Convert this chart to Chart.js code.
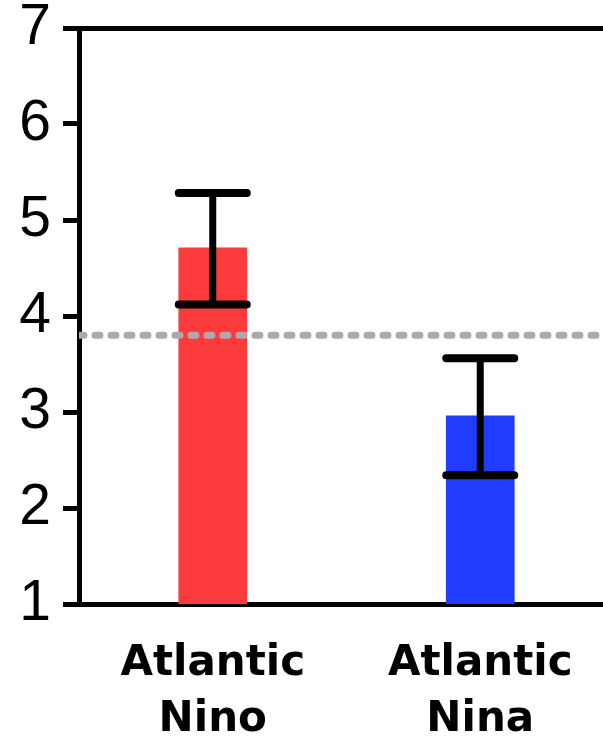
<!DOCTYPE html>
<html>
<head>
  <meta charset="utf-8">
  <title>Atlantic Nino / Nina</title>
  <script src="https://cdn.jsdelivr.net/npm/chart.js@4.4.0/dist/chart.umd.min.js"></script>
  <style>
    html, body { margin: 0; padding: 0; background: #fff; overflow: hidden; }
    #wrap { width: 640px; height: 741px; }
  </style>
</head>
<body>
  <div id="wrap"><canvas id="myChart"></canvas></div>

  <script>
    // categories and values
    const categories = [['Atlantic', 'Nino'], ['Atlantic', 'Nina']];
    const means = [4.71, 2.96];
    const errLow = [4.12, 2.34];
    const errHigh = [5.28, 3.56];
    const barColors = ['#fc3c3c', '#1f3cff'];
    const refLevel = 3.8;   // dashed reference line
    const yTicks = [1, 2, 3, 4, 5, 6, 7];

    // error bars drawn on top of the bars
    const errorBars = {
      id: 'errorBars',
      afterDatasetsDraw(chart) {
        const meta = chart.getDatasetMeta(0);
        const y = chart.scales.y;
        const ctx = chart.ctx;
        ctx.save();
        ctx.strokeStyle = '#000';
        meta.data.forEach((bar, i) => {
          const yl = y.getPixelForValue(errLow[i]);
          const yh = y.getPixelForValue(errHigh[i]);
          const hw = bar.width / 2;
          ctx.lineWidth = 7;
          ctx.lineCap = 'butt';
          ctx.beginPath();
          ctx.moveTo(bar.x, yh);
          ctx.lineTo(bar.x, yl);
          ctx.stroke();
          ctx.lineCap = 'round';
          ctx.lineWidth = 8;
          ctx.beginPath();
          ctx.moveTo(bar.x - hw, yh);
          ctx.lineTo(bar.x + hw, yh);
          ctx.moveTo(bar.x - hw, yl);
          ctx.lineTo(bar.x + hw, yl);
          ctx.stroke();
        });
        ctx.restore();
      }
    };

    const ctx = document.getElementById('myChart').getContext('2d');
    const myChart = new Chart(ctx, {
      type: 'bar',
      data: {
        labels: categories,
        datasets: [{
          type: 'bar',
          data: means,
          backgroundColor: barColors,
          borderWidth: 0,
          barThickness: 68,
          grouped: false,
          order: 2
        }, {
          type: 'line',
          xAxisID: 'x2',
          data: [{x: 0, y: refLevel}, {x: 1, y: refLevel}],
          borderColor: '#aaaaaa',
          borderWidth: 7,
          borderDash: [5, 11],
          borderCapStyle: 'round',
          pointRadius: 0,
          order: 1
        }]
      },
      options: {
        responsive: true,
        maintainAspectRatio: false,
        animation: false,
        layout: { padding: { top: 28, right: 26, left: 0, bottom: 0 } },
        plugins: {
          legend: { display: false },
          tooltip: { enabled: false }
        },
        scales: {
          x: {
            offset: true,
            grid: { display: false, drawTicks: false },
            border: { display: true, color: '#000', width: 5 },
            ticks: {
              color: '#000',
              padding: 32,
              font: { family: 'DejaVu Sans', size: 42, weight: 'bold', lineHeight: 1.33 },
              maxRotation: 0,
              autoSkip: false
            },
            afterFit(scale) { scale.height = 137; }
          },
          x2: {
            type: 'linear',
            display: false,
            offset: false,
            min: 0,
            max: 1
          },
          y: {
            min: 1,
            max: 7,
            afterBuildTicks(scale) { scale.ticks = yTicks.map(v => ({ value: v })); },
            afterFit(scale) {
              scale.width = 79;
              scale.paddingTop = 0;
              scale.paddingBottom = 0;
            },
            grid: {
              color: c => (c.tick && c.tick.value === 7) ? '#000' : 'rgba(0,0,0,0)',
              tickColor: '#000',
              lineWidth: 5,
              tickLength: 16
            },
            border: { display: true, color: '#000', width: 5 },
            ticks: {
              color: '#000',
              padding: 12,
              font: { family: "'Liberation Sans Narrow', 'Liberation Sans', sans-serif", size: 57 }
            }
          }
        }
      },
      plugins: [errorBars]
    });
  </script>
</body>
</html>
